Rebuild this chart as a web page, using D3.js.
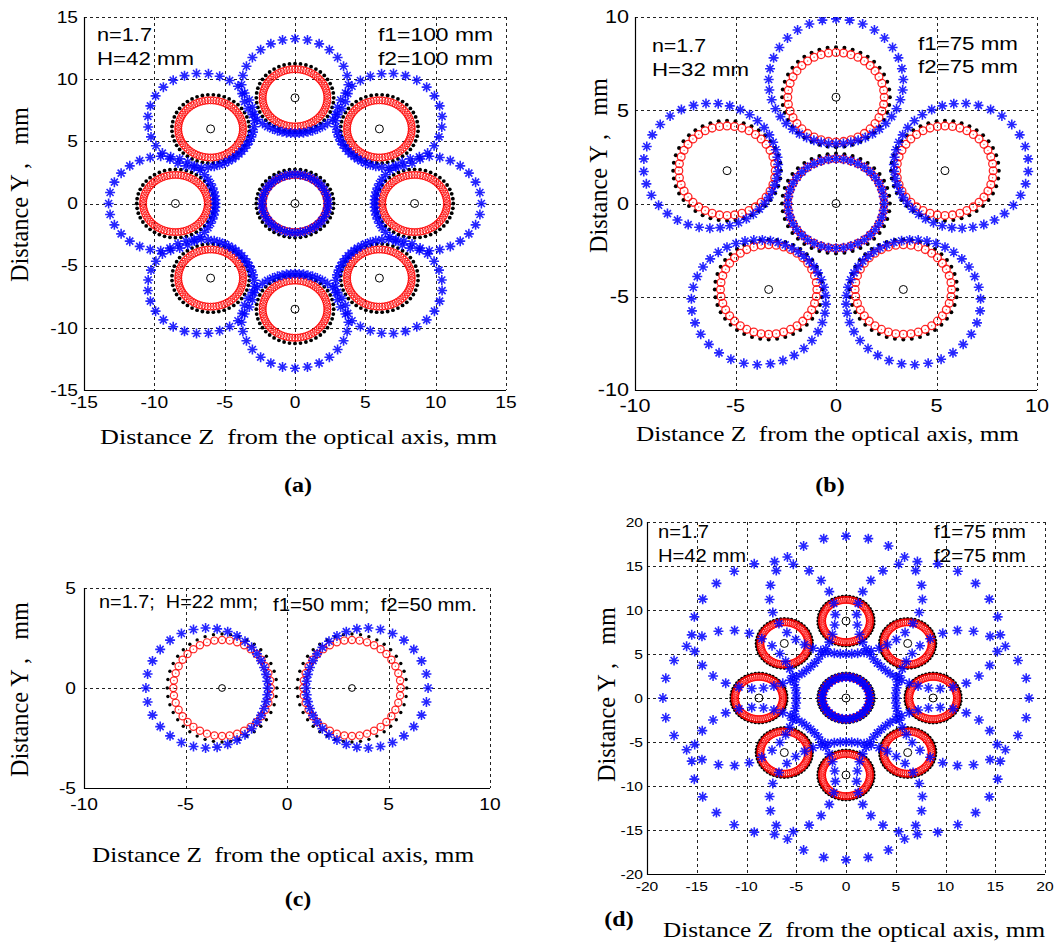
<!DOCTYPE html>
<html>
<head>
<meta charset="utf-8">
<script src="https://cdn.jsdelivr.net/npm/d3@7"></script>
<style>
  body { margin: 0; background: #fff; }
  svg { display: block; }
  text { white-space: pre; }
</style>
</head>
<body>
<script>
// ---------- values (mm) ----------
// group centres, one black "o" per group
const centresA = [[0,0],[8.5,0],[6,6],[0,8.5],[-6,6],[-8.5,0],[-6,-6],[0,-8.5],[6,-6]];
const centresB = [[0,0],[0,5.7],[5.42,1.76],[-5.42,1.76],[3.35,-4.61],[-3.35,-4.61]];
const centresC = [[-3.2,0],[3.2,0]];
const centresD = [[0,0],[8.75,0],[6.2,6.2],[0,8.75],[-6.2,6.2],[-8.75,0],[-6.2,-6.2],[0,-8.75],[6.2,-6.2]];

// rings round each centre: [radius, number of points]
const redA = [2.3, 72], blackA = [2.75, 44], blueMidA = [2.35, 40];
const redB = [2.4, 40], blackB = [2.68, 40], blueMidB = [2.4, 40];
const redC = [2.4, 40], blackC = [2.7, 40];
const redD = [2.4, 72], blackD = [2.8, 48], blueMidD = [2.4, 40];

// outer blue "*" ring: [shift away from axis, radial semi-axis, tangential semi-axis, points, crowding on inner side]
const blueA = [0.95, 3.8, 3.8, 40, 0.5];
const blueB = [0.85, 3.35, 3.35, 40, 0.3];
const blueC = [0.75, 3.0, 3.0, 36, 0.35];
const blueD = [2.95, 6.7, 7.7, 34, 0.6];

const ticksA = [-15, -10, -5, 0, 5, 10, 15];
const ticksB = [-10, -5, 0, 5, 10];
const ticksCx = [-10, -5, 0, 5, 10];
const ticksCy = [-5, 0, 5];
const ticksD = [-20, -15, -10, -5, 0, 5, 10, 15, 20];

const notesA = ["n=1.7", "H=42 mm", "f1=100 mm", "f2=100 mm"];
const notesB = ["n=1.7", "H=32 mm", "f1=75 mm", "f2=75 mm"];
const notesC = ["n=1.7;  H=22 mm;", "f1=50 mm;  f2=50 mm."];
const notesD = ["n=1.7", "H=42 mm", "f1=75 mm", "f2=75 mm"];

const xTitle = "Distance Z  from the optical axis, mm";
const yTitle = "Distance Y ,   mm";
const panelNames = ["(a)", "(b)", "(c)", "(d)"];

// ---------- drawing ----------
const W = 1054, H = 944, STRETCH = 1.2;
const SANS = "'Liberation Sans', Arial, sans-serif";
const SERIF = "'Liberation Serif', 'Times New Roman', serif";

const svg = d3.select("body").append("svg")
    .attr("width", W).attr("height", H)
    .attr("viewBox", `0 0 ${W} ${H}`);

function ringPoints(c, off, rr, rt, n, skew) {
    const th = Math.atan2(c[1], c[0]);
    const ux = Math.cos(th), uy = Math.sin(th);
    const cx = c[0] + off * ux, cy = c[1] + off * uy;
    const pts = [];
    for (let k = 0; k < n; k++) {
        const u = 2 * Math.PI * k / n;
        const p = u + skew * Math.sin(u);
        pts.push([cx + rr * Math.cos(p) * ux - rt * Math.sin(p) * uy,
                  cy + rr * Math.cos(p) * uy + rt * Math.sin(p) * ux]);
    }
    return pts;
}

function starPath(s) {
    const d = s * 0.7;
    return `M${-s},0L${s},0M0,${-s}L0,${s}M${-d},${-d}L${d},${d}M${-d},${d}L${d},${-d}`;
}

function stretchedText(g, x, y, str, size, opts) {
    const t = g.append("text")
        .attr("transform", `translate(${x},${y}) scale(${STRETCH},1)`)
        .attr("font-family", opts.family || SANS)
        .attr("font-size", size)
        .attr("text-anchor", opts.anchor || "start")
        .attr("fill", "#000")
        .text(str);
    if (opts.bold) t.attr("font-weight", "bold");
    return t;
}

function fitText(g, x, y, str, size, width, family) {
    return g.append("text")
        .attr("x", x).attr("y", y)
        .attr("font-family", family)
        .attr("font-size", size)
        .attr("textLength", width)
        .attr("lengthAdjust", "spacingAndGlyphs")
        .attr("fill", "#000")
        .text(str);
}

function drawPanel(o, id) {
    const g = svg.append("g");
    const sx = d3.scaleLinear().domain([o.xt[0], o.xt[o.xt.length - 1]]).range([o.x0, o.x1]);
    const sy = d3.scaleLinear().domain([o.yt[0], o.yt[o.yt.length - 1]]).range([o.y1, o.y0]);

    g.append("clipPath").attr("id", "clip" + id)
        .append("rect").attr("x", o.x0).attr("y", o.y0)
        .attr("width", o.x1 - o.x0).attr("height", o.y1 - o.y0);

    // grid + dashed top/right edges
    const grid = g.append("g").attr("stroke", "#222").attr("stroke-width", 1)
        .attr("stroke-dasharray", "3,3");
    o.xt.slice(1).forEach(v => grid.append("line")
        .attr("x1", Math.round(sx(v)) + 0.5).attr("x2", Math.round(sx(v)) + 0.5)
        .attr("y1", o.y0).attr("y2", o.y1));
    o.yt.slice(1).forEach(v => grid.append("line")
        .attr("y1", Math.round(sy(v)) + 0.5).attr("y2", Math.round(sy(v)) + 0.5)
        .attr("x1", o.x0).attr("x2", o.x1));

    // solid left/bottom axes
    g.append("path")
        .attr("d", `M${o.x0 + 0.5},${o.y0}V${o.y1 + 0.5}H${o.x1}`)
        .attr("fill", "none").attr("stroke", "#000").attr("stroke-width", 1.2);

    // tick labels
    o.yt.forEach(v => stretchedText(g, o.x0 - o.yGap, sy(v) + o.tick * 0.36,
        String(v), o.tick, { anchor: "end" }));
    o.xt.forEach(v => stretchedText(g, sx(v), o.xBase, String(v), o.tick, { anchor: "middle" }));

    const marks = g.append("g").attr("clip-path", `url(#clip${id})`);

    // black dots
    o.centres.forEach(c => {
        marks.append("g").selectAll("circle")
            .data(ringPoints(c, 0, o.black[0], o.black[0], o.black[1], 0))
            .join("circle")
            .attr("cx", d => sx(d[0])).attr("cy", d => sy(d[1]))
            .attr("r", o.dotR).attr("fill", "#000");
    });
    // red circles
    o.centres.forEach(c => {
        const pts = ringPoints(c, 0, o.red[0], o.red[0], o.red[1], 0);
        const rg = marks.append("g");
        rg.selectAll("circle.o").data(pts).join("circle").attr("class", "o")
            .attr("cx", d => sx(d[0])).attr("cy", d => sy(d[1]))
            .attr("r", o.redR).attr("fill", "none")
            .attr("stroke", "#ff0000").attr("stroke-width", o.redW).attr("stroke-opacity", 0.85);
        rg.selectAll("circle.d").data(pts).join("circle").attr("class", "d")
            .attr("cx", d => sx(d[0])).attr("cy", d => sy(d[1]))
            .attr("r", 0.7).attr("fill", "#ff5050");
    });
    // blue stars
    o.centres.forEach(c => {
        const isMid = c[0] === 0 && c[1] === 0;
        let pts;
        if (isMid) {
            if (!o.blueMid) return;
            pts = ringPoints(c, 0, o.blueMid[0], o.blueMid[0], o.blueMid[1], 0);
        } else {
            const b = o.blue;
            pts = ringPoints(c, b[0], b[1], b[2], b[3], b[4]);
        }
        marks.append("g").selectAll("path").data(pts).join("path")
            .attr("transform", d => `translate(${sx(d[0])},${sy(d[1])})`)
            .attr("d", starPath(o.star))
            .attr("fill", "none").attr("stroke", "#0000ff")
            .attr("stroke-width", 1.6).attr("stroke-opacity", 0.85);
    });
    // centre markers
    marks.append("g").selectAll("circle").data(o.centres).join("circle")
        .attr("cx", d => sx(d[0])).attr("cy", d => sy(d[1]))
        .attr("r", o.ctrR).attr("fill", "none")
        .attr("stroke", "#000").attr("stroke-width", 1);

    // annotations inside the box
    o.notes.forEach((str, i) => {
        const n = o.notePos[i];
        fitText(g, n[0], n[1], str, o.noteSize, n[2], SANS);
    });

    // axis titles
    fitText(g, o.xLab[0], o.xLab[1], xTitle, 22, o.xLab[2], SERIF);
    g.append("text")
        .attr("transform", `translate(${o.yLab[0]},${o.yLab[1]}) scale(${STRETCH},1) rotate(-90)`)
        .attr("font-family", SERIF).attr("font-size", 21)
        .attr("textLength", o.yLab[2]).attr("lengthAdjust", "spacingAndGlyphs")
        .attr("fill", "#000")
        .text(yTitle);

    stretchedText(g, o.title[0], o.title[1], panelNames[id], 20, { family: SERIF, anchor: "middle", bold: true });
}

drawPanel({
    x0: 84, x1: 506, y0: 17, y1: 390, xt: ticksA, yt: ticksA,
    tick: 16, yGap: 6, xBase: 408,
    centres: centresA, red: redA, black: blackA, blueMid: blueMidA, blue: blueA,
    dotR: 1.9, ctrR: 4, star: 5, redR: 3.6, redW: 1,
    notes: notesA, noteSize: 18.5,
    notePos: [[97, 41, 55], [97, 65, 97], [378, 41, 115], [378, 65, 115]],
    xLab: [100, 444, 397], yLab: [28, 282, 175], title: [298, 492]
}, 0);

drawPanel({
    x0: 635, x1: 1037, y0: 17, y1: 390, xt: ticksB, yt: ticksB,
    tick: 18, yGap: 6, xBase: 412,
    centres: centresB, red: redB, black: blackB, blueMid: blueMidB, blue: blueB,
    dotR: 2, ctrR: 4, star: 5, redR: 3.9, redW: 1.3,
    notes: notesB, noteSize: 18.5,
    notePos: [[652, 52, 54], [652, 76, 97], [918, 50, 100], [918, 73, 100]],
    xLab: [636, 441, 383], yLab: [607, 253, 175], title: [830, 492]
}, 1);

drawPanel({
    x0: 84, x1: 490, y0: 588, y1: 788, xt: ticksCx, yt: ticksCy,
    tick: 16, yGap: 8, xBase: 810,
    centres: centresC, red: redC, black: blackC, blueMid: null, blue: blueC,
    dotR: 1.7, ctrR: 3.4, star: 5, redR: 3.6, redW: 1.2,
    notes: notesC, noteSize: 18,
    notePos: [[99, 608, 159], [273, 611, 204]],
    xLab: [92, 862, 382], yLab: [28, 777, 175], title: [298, 906]
}, 2);

drawPanel({
    x0: 647, x1: 1045, y0: 522, y1: 874, xt: ticksD, yt: ticksD,
    tick: 13, yGap: 4, xBase: 891,
    centres: centresD, red: redD, black: blackD, blueMid: blueMidD, blue: blueD,
    dotR: 1.8, ctrR: 4, star: 5, redR: 3.6, redW: 1,
    notes: notesD, noteSize: 18,
    notePos: [[658, 538, 51], [658, 562, 88], [934, 538, 92], [934, 562, 92]],
    xLab: [663, 937, 382], yLab: [615, 782, 175], title: [619, 926]
}, 3);
</script>
</body>
</html>
